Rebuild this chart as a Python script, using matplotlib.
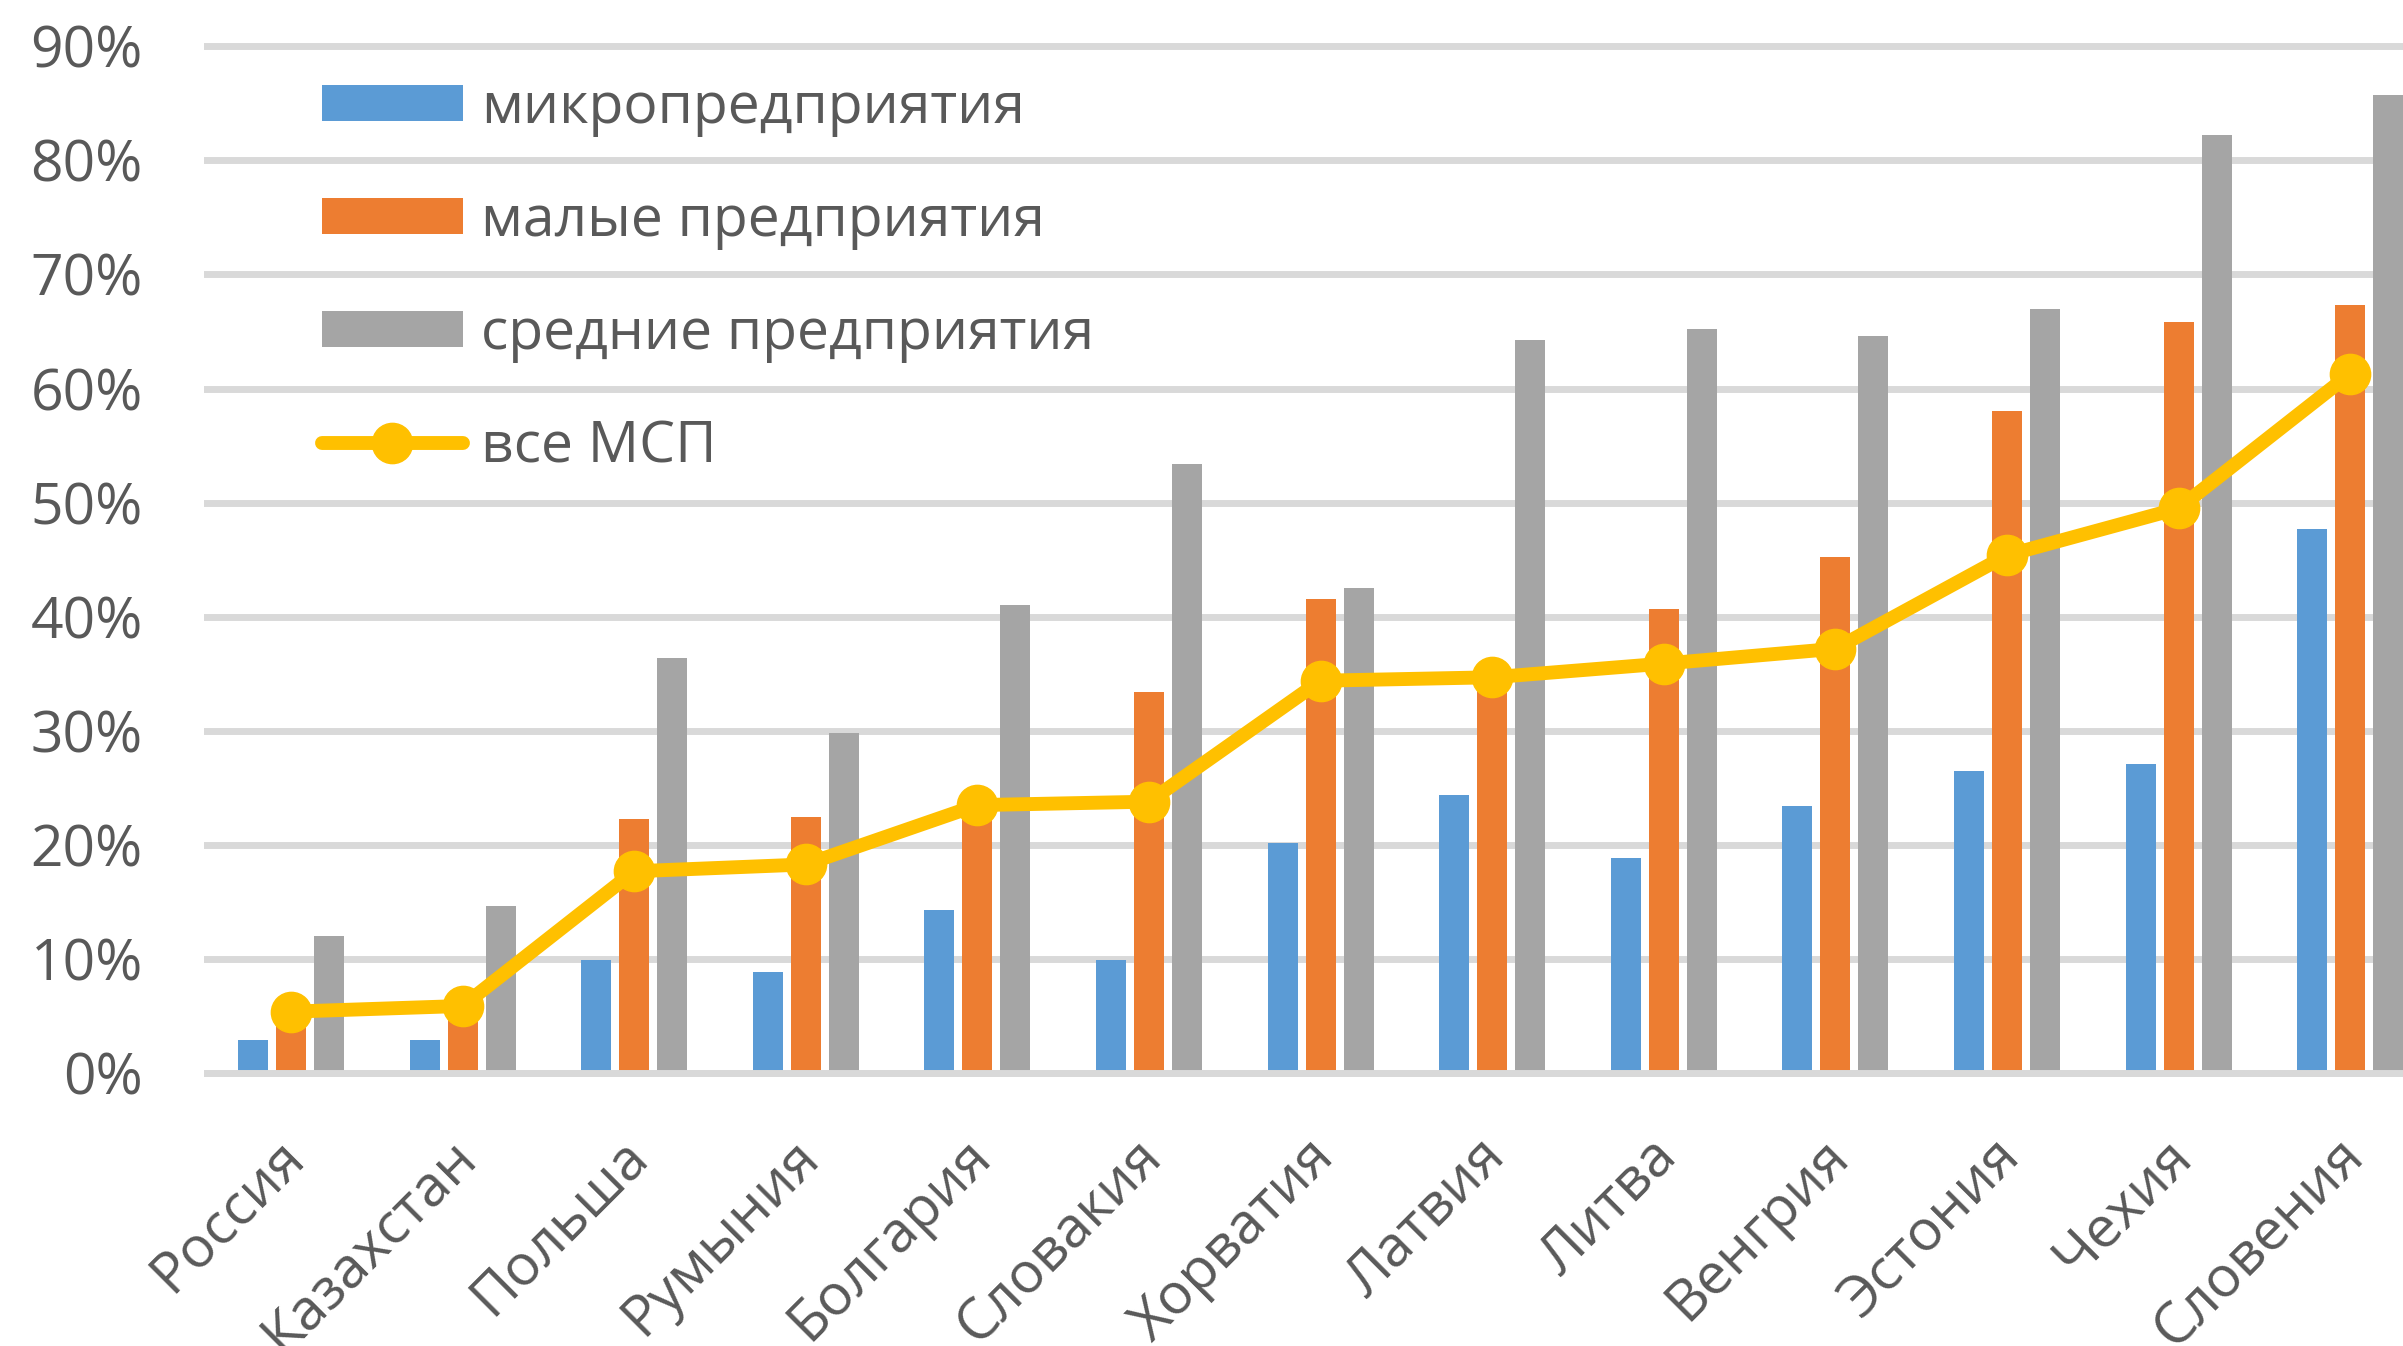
import matplotlib
matplotlib.use("Agg")
import matplotlib.pyplot as plt
import matplotlib.transforms as mtransforms
import numpy as np

plt.rcParams['font.family'] = ['Open Sans', 'DejaVu Sans']

countries = ['Россия', 'Казахстан', 'Польша', 'Румыния', 'Болгария', 'Словакия',
             'Хорватия', 'Латвия', 'Литва', 'Венгрия', 'Эстония', 'Чехия', 'Словения']
micro = [2.9, 2.9, 9.9, 8.9, 14.3, 9.9, 20.2, 24.4, 18.9, 23.4, 26.5, 27.1, 47.7]
small = [5.0, 5.6, 22.3, 22.5, 24.5, 33.4, 41.6, 34.0, 40.7, 45.2, 58.0, 65.8, 67.3]
medium = [12.0, 14.7, 36.4, 29.8, 41.0, 53.4, 42.5, 64.3, 65.2, 64.6, 67.0, 82.2, 85.7]
all_sme = [5.4, 5.9, 17.7, 18.3, 23.5, 23.8, 34.4, 34.7, 35.9, 37.2, 45.4, 49.5, 61.3]
series_names = ['микропредприятия', 'малые предприятия', 'средние предприятия', 'все МСП']
yticks = [0, 10, 20, 30, 40, 50, 60, 70, 80, 90]
ytick_labels = ['0%', '10%', '20%', '30%', '40%', '50%', '60%', '70%', '80%', '90%']

C_BLUE = '#5B9BD5'
C_ORANGE = '#ED7D31'
C_GRAY = '#A5A5A5'
C_YELLOW = '#FFC000'
C_TEXT = '#595959'
C_GRID = '#D9D9D9'

W, H = 2403, 1346
fig = plt.figure(figsize=(W / 100, H / 100), dpi=100)

# axes placement (pixels)
px_per_unit = 11.37
pad_units = 0.4
ax_left = 204
y0_px = 1073.3
y90_px = 46.2
bottom_px = y0_px + pad_units * px_per_unit
top_px = y90_px - pad_units * px_per_unit
ax = fig.add_axes([ax_left / W, 1 - bottom_px / H, 1 - ax_left / W, (bottom_px - top_px) / H])

x = np.arange(len(countries))
group_px = 171.6
bw = 0.175
off = 0.221

b1 = ax.bar(x - off, micro, width=bw, color=C_BLUE, zorder=2, label=series_names[0])
b2 = ax.bar(x, small, width=bw, color=C_ORANGE, zorder=2, label=series_names[1])
b3 = ax.bar(x + off, medium, width=bw, color=C_GRAY, zorder=2, label=series_names[2])
ax.axhline(0, color=C_GRID, lw=5, zorder=3)
ln, = ax.plot(x, all_sme, color=C_YELLOW, lw=10, marker='o', ms=29,
              solid_capstyle='round', solid_joinstyle='round', zorder=5, label=series_names[3])

ax.set_xlim(-0.507, -0.507 + (W - ax_left) / group_px)
ax.set_ylim(-pad_units, 90 + pad_units)

ax.set_yticks(yticks)
ax.set_yticklabels(ytick_labels)
ax.yaxis.grid(True, color=C_GRID, lw=5)
ax.set_axisbelow(True)
for s in ax.spines.values():
    s.set_visible(False)

ax.set_xticks(x)
ax.set_xticklabels(countries, rotation=45, ha='right', va='top', rotation_mode='anchor')
ax.tick_params(axis='both', length=0, labelsize=41, labelcolor=C_TEXT)
ax.tick_params(axis='y', pad=44)
ax.tick_params(axis='x', pad=36)
shift = mtransforms.ScaledTranslation(-15 / 100, 0, fig.dpi_scale_trans)
for lab in ax.get_xticklabels():
    lab.set_transform(lab.get_transform() + shift)

leg = ax.legend([b1, b2, b3, ln], series_names, loc='upper left',
                bbox_to_anchor=(322 / W, 1 - 80 / H), bbox_transform=fig.transFigure,
                frameon=False, fontsize=41, labelcolor=C_TEXT,
                handlelength=2.47, handleheight=0.6, handletextpad=0.32,
                labelspacing=0.985, borderpad=0, borderaxespad=0)

fig.savefig('out.png', dpi=100)
